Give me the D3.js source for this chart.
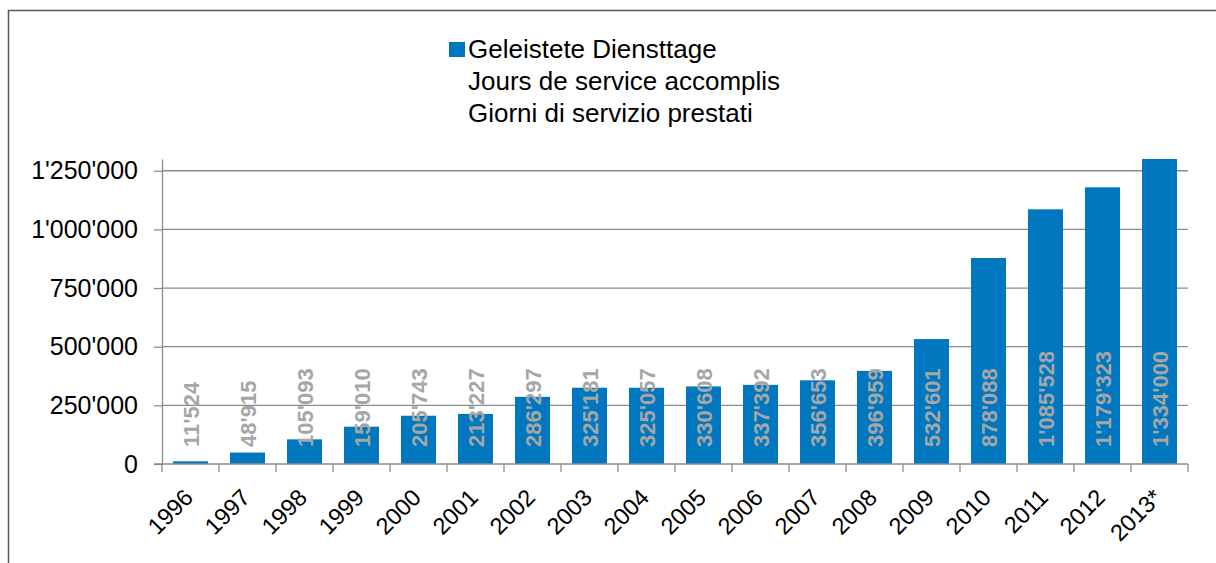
<!DOCTYPE html>
<html>
<head>
<meta charset="utf-8">
<script src="https://cdn.jsdelivr.net/npm/d3@7"></script>
<style>
  html, body { margin: 0; padding: 0; background: #fff; }
  svg { display: block; }
  text { font-family: Arial, "Liberation Sans", sans-serif; }
</style>
</head>
<body>
<svg id="chart" width="1216" height="563"></svg>
<script>
const categories = ['1996','1997','1998','1999','2000','2001','2002','2003','2004','2005','2006','2007','2008','2009','2010','2011','2012','2013*'];
const values = [11524, 48915, 105093, 159010, 205743, 213227, 286297, 325181, 325057, 330608, 337392, 356653, 396959, 532601, 878088, 1085528, 1179323, 1334000];
const yTicks = [0, 250000, 500000, 750000, 1000000, 1250000];
const yMax = 1300000;
const legendLines = ['Geleistete Diensttage', 'Jours de service accomplis', 'Giorni di servizio prestati'];

const barColor = '#0077BE';
const gridColor = '#8C8C8C';
const labelColor = '#A6A6A6';

const locale = d3.formatLocale({decimal: '.', thousands: "'", grouping: [3], currency: ['', '']});
const fmt = locale.format(',');

const svg = d3.select('#chart');
const pLeft = 162, pRight = 1188, pTop = 159, pBottom = 464;

// chart border
svg.append('rect')
  .attr('x', 8.5).attr('y', 10.5).attr('width', 1230).attr('height', 600)
  .attr('fill', 'none').attr('stroke', '#595959').attr('stroke-width', 1.5);

const x = d3.scaleBand().domain(categories).range([pLeft, pRight])
  .paddingInner(22 / 57).paddingOuter(11 / 57);
const y = d3.scaleLinear().domain([0, yMax]).range([pBottom, pTop]);

// gridlines
svg.append('g').selectAll('line').data(yTicks.filter(d => d > 0)).join('line')
  .attr('x1', pLeft).attr('x2', pRight)
  .attr('y1', d => y(d)).attr('y2', d => y(d))
  .attr('stroke', gridColor).attr('stroke-width', 1.3);

// clip
svg.append('clipPath').attr('id', 'plotclip').append('rect')
  .attr('x', pLeft).attr('y', pTop).attr('width', pRight - pLeft).attr('height', pBottom - pTop);

// bars
svg.append('g').attr('clip-path', 'url(#plotclip)')
  .selectAll('rect').data(values).join('rect')
  .attr('x', (d, i) => x(categories[i]))
  .attr('width', x.bandwidth())
  .attr('y', d => y(d))
  .attr('height', d => y(0) - y(d))
  .attr('fill', barColor);

// y axis
const yAxis = d3.axisLeft(y).tickValues(yTicks).tickFormat(fmt).tickSize(8).tickSizeOuter(0).tickPadding(16);
const yg = svg.append('g').attr('transform', `translate(${pLeft},0)`).call(yAxis);
yg.select('.domain').attr('stroke', gridColor).attr('stroke-width', 1.3);
yg.selectAll('.tick line').attr('stroke', gridColor).attr('stroke-width', 1.3);
yg.selectAll('.tick text').attr('font-size', 25).attr('fill', '#000')
  .attr('font-family', 'Arial, "Liberation Sans", sans-serif');

// x axis line and boundary ticks
svg.append('line').attr('x1', pLeft - 8).attr('x2', pRight).attr('y1', pBottom).attr('y2', pBottom)
  .attr('stroke', gridColor).attr('stroke-width', 1.3);
const halfGap = x.step() * x.paddingInner() / 2;
const bounds = categories.map(c => x(c) - halfGap).concat([pRight]);
svg.append('g').selectAll('line').data(bounds).join('line')
  .attr('x1', d => d).attr('x2', d => d).attr('y1', pBottom).attr('y2', pBottom + 8)
  .attr('stroke', gridColor).attr('stroke-width', 1.3);

// x labels
const xAxis = d3.axisBottom(x).tickSize(0).tickSizeOuter(0);
const xg = svg.append('g').attr('transform', `translate(0,${pBottom})`).call(xAxis);
xg.select('.domain').remove();
xg.selectAll('.tick text')
  .attr('font-size', 23.5).attr('fill', '#000')
  .attr('font-family', 'Arial, "Liberation Sans", sans-serif')
  .attr('text-anchor', 'end')
  .attr('dy', null)
  .attr('y', 0)
  .attr('transform', 'translate(4,35) rotate(-45)');

// data labels
svg.append('g').selectAll('text').data(values).join('text')
  .attr('transform', (d, i) => `translate(${x(categories[i]) + x.bandwidth() / 2 + 1},${y(0) - 17}) rotate(-90)`)
  .attr('text-anchor', 'start')
  .attr('dominant-baseline', 'central')
  .attr('font-size', 22).attr('font-weight', 'bold')
  .attr('fill', labelColor)
  .text(d => fmt(d));

// legend
const lg = svg.append('g');
lg.append('rect').attr('x', 449).attr('y', 42).attr('width', 16).attr('height', 15).attr('fill', barColor);
lg.selectAll('text').data(legendLines).join('text')
  .attr('x', 468).attr('y', (d, i) => 57.5 + i * 32.2)
  .attr('font-size', 26).attr('fill', '#000')
  .text(d => d);
</script>
</body>
</html>
